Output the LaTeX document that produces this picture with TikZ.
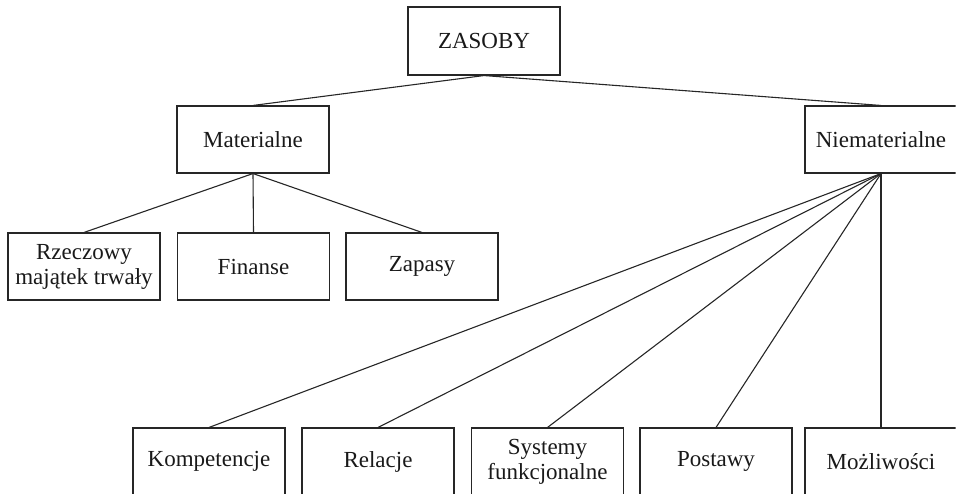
\documentclass[tikz,border=0pt]{standalone}
\usepackage{fontspec}
\setmainfont{Liberation Serif}
\begin{document}
\begin{tikzpicture}[x=1pt,y=-1pt,
  box/.style={draw=black!85, line width=1.1pt, minimum width=152pt, minimum height=67pt,
    inner sep=0pt, align=center, font=\fontsize{23}{25}\selectfont, text=black!90},
  link/.style={draw=black!85, line width=1.1pt}]
\path[use as bounding box] (0,0) rectangle (957,495);
\clip (0,0) rectangle (955.5,493);
% top level
\node[box, minimum height=68pt] (zas) at (484,41) {ZASOBY};
% second level
\node[box] (mat) at (253,139.5) {Materialne};
\node[box] (niem) at (881,139.5) {Niematerialne};
% material resources
\node[box] (rze) at (84,266.5) {Rzeczowy\\majątek trwały};
\node[box] (fin) at (253.5,266.5) {Finanse};
\node[box] (zap) at (422,266.5) {Zapasy};
% intangible resources
\node[box] (kom) at (209,461.5) {Kompetencje};
\node[box] (rel) at (378,461.5) {Relacje};
\node[box] (sys) at (547.5,461.5) {Systemy\\funkcjonalne};
\node[box] (pos) at (716,461.5) {Postawy};
\node[box] (moz) at (881,461.5) {Możliwości};
% connectors
\draw[link] (zas.south) -- (mat.north);
\draw[link] (zas.south) -- (niem.north);
\foreach \t in {rze,fin,zap} \draw[link] (mat.south) -- (\t.north);
\foreach \t in {kom,rel,sys,pos,moz} \draw[link] (niem.south) -- (\t.north);
\end{tikzpicture}
\end{document}
